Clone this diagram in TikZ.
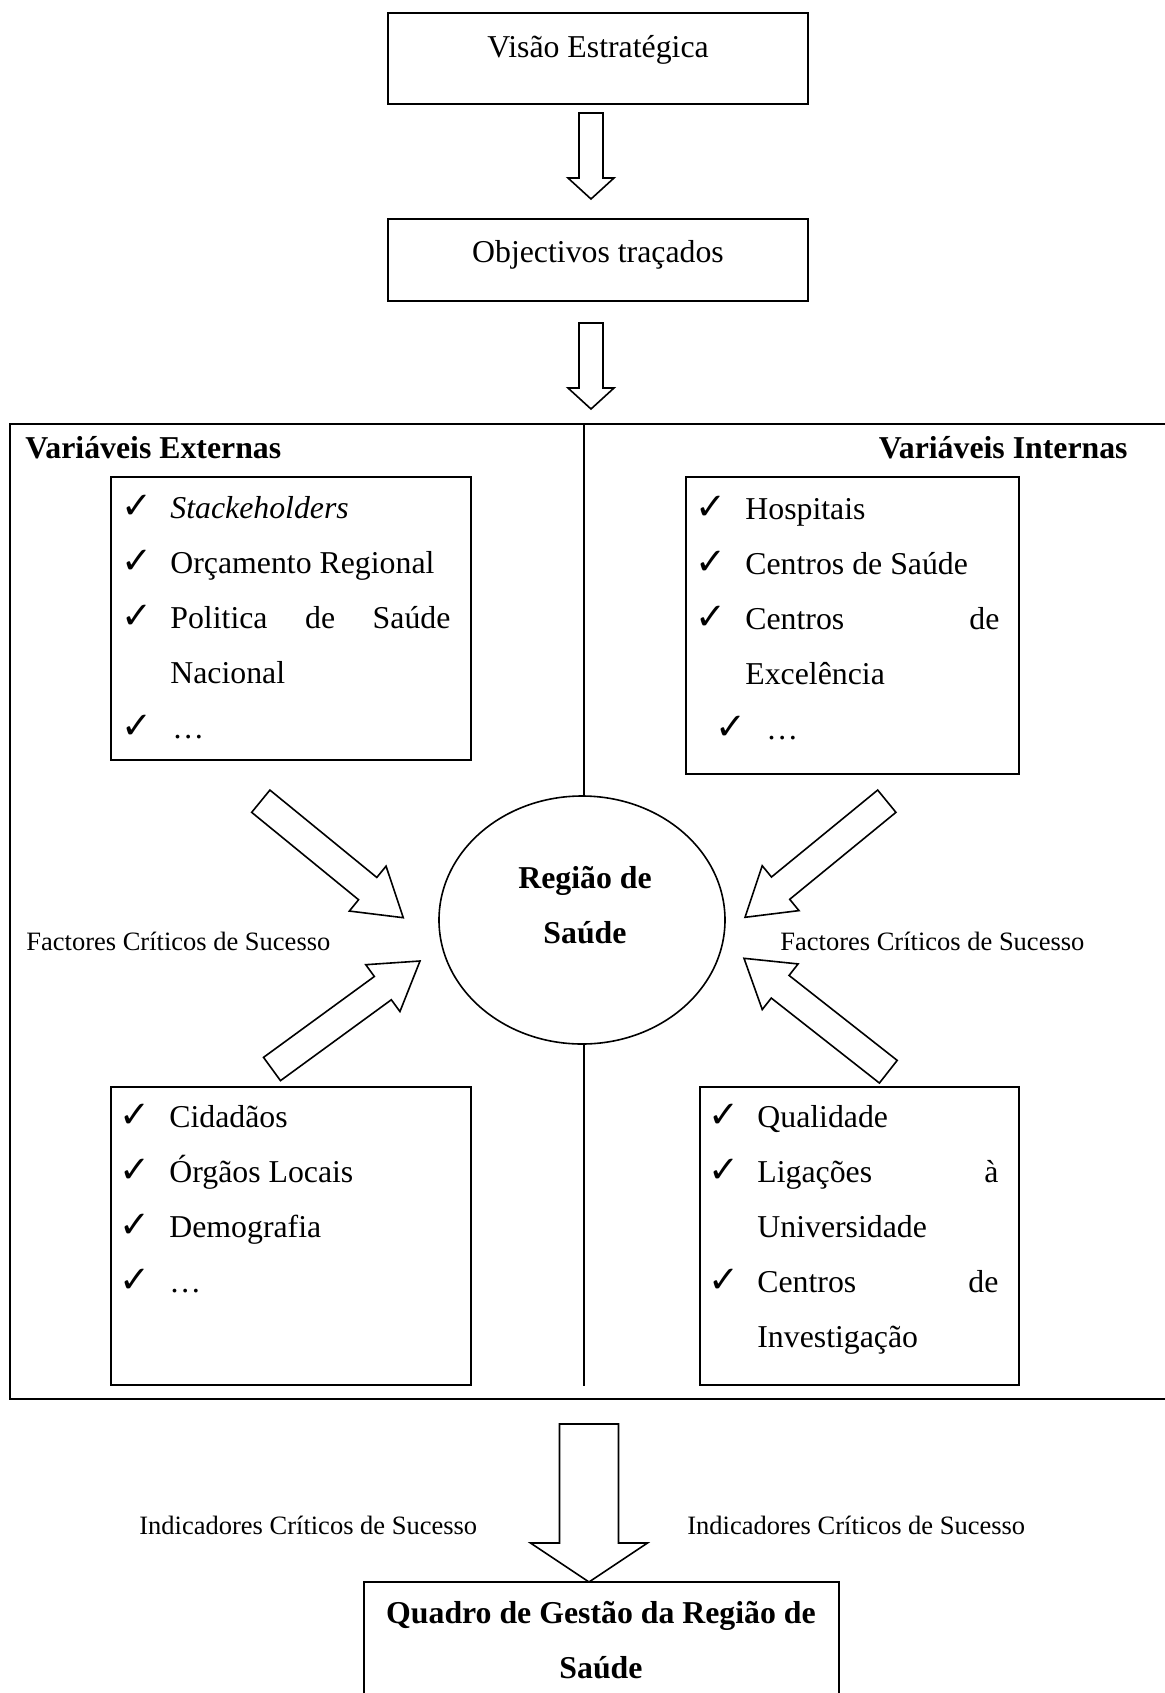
\documentclass[tikz,border=0pt]{standalone}
\usepackage{fontspec}
\setmainfont{Liberation Serif}
\newfontfamily\tickfont{DejaVu Sans}
\usetikzlibrary{calc,shapes.geometric}

% hollow block arrow: tail, tip, shaft half-width, head half-width, head length
\newcommand\flowarrow[5]{%
  \coordinate (fa-neck) at ($(#2)!#5!(#1)$);
  \draw[blockarrow]
    ($(#1)!#3!90:(#2)$) -- ($(fa-neck)!#3!90:(#2)$) -- ($(fa-neck)!#4!90:(#2)$)
    -- (#2)
    -- ($(fa-neck)!#4!-90:(#2)$) -- ($(fa-neck)!#3!-90:(#2)$) -- ($(#1)!#3!-90:(#2)$)
    -- cycle;}

\tikzset{
  box/.style={draw, line width=0.8pt, inner sep=0pt},
  frame/.style={draw, line width=1.1pt, inner sep=0pt},
  blockarrow/.style={draw, line width=0.8pt, fill=white, line join=miter},
  txt/.style={inner sep=0pt, anchor=base west, font=\fontsize{15.9}{27.5}\selectfont},
  ctxt/.style={inner sep=0pt, anchor=base, font=\fontsize{15.9}{27.5}\selectfont},
  btxt/.style={inner sep=0pt, anchor=base, font=\fontsize{15.9}{27.5}\selectfont\bfseries},
  small/.style={inner sep=0pt, anchor=base west, font=\fontsize{13.25}{16}\selectfont},
  tick/.style={inner sep=0pt, anchor=base west, font=\tickfont\fontsize{18.5}{20}\selectfont},
}

\begin{document}
\begin{tikzpicture}[x=0.5pt,y=-0.5pt]
\useasboundingbox (0,0) rectangle (1164,1693);

% boxes
\node[box, minimum width=210pt, minimum height=45.5pt] (vis) at (598,58.5) {};
\node[box, minimum width=210pt, minimum height=41pt] (obj) at (598,260) {};
\node[frame, minimum width=585pt, minimum height=487.5pt] (frm) at (595,911.5) {};
\node[box, minimum width=180pt, minimum height=141.5pt] (ext1) at (291,618.5) {};
\node[box, minimum width=166.5pt, minimum height=148.5pt] (int1) at (852.5,625.5) {};
\node[box, minimum width=180pt, minimum height=149pt] (ext2) at (291,1236) {};
\node[box, minimum width=159.5pt, minimum height=149pt] (int2) at (859.5,1236) {};
\node[box, minimum width=237.5pt, minimum height=69pt] (quad) at (601.5,1651) {};
\node[draw, line width=0.8pt, ellipse, inner sep=0pt, minimum width=143pt, minimum height=124pt] (reg) at (582,920) {};

% central divider
\coordinate (divtop) at (584,424);
\coordinate (divbot) at (584,1386);
\draw[line width=0.8pt] (divtop) -- (divtop |- reg.north);
\draw[line width=0.8pt] (divbot |- reg.south) -- (divbot);

% block arrows
\coordinate (a1t) at (591,113);  \coordinate (a1h) at (591,199);
\coordinate (a2t) at (591,323);  \coordinate (a2h) at (591,409);
\coordinate (a3t) at (589,1424); \coordinate (a3h) at (589,1582);
\flowarrow{a1t}{a1h}{6pt}{11.5pt}{10.5pt}
\flowarrow{a2t}{a2h}{6pt}{11.5pt}{10.5pt}
\flowarrow{a3t}{a3h}{14.75pt}{29.25pt}{19.5pt}

\coordinate (tlt) at (260.8,801.2);  \coordinate (tlh) at (403.3,917.7);
\coordinate (blt) at (272,1069);     \coordinate (blh) at (420,961);
\coordinate (trt) at (886.8,801.2);  \coordinate (trh) at (745,917.3);
\coordinate (brt) at (888.3,1071.7); \coordinate (brh) at (744,958.3);
\flowarrow{tlt}{tlh}{7.2pt}{14.5pt}{23pt}
\flowarrow{blt}{blh}{7.2pt}{14.5pt}{23pt}
\flowarrow{trt}{trh}{7.2pt}{14.5pt}{23pt}
\flowarrow{brt}{brh}{7.2pt}{14.5pt}{23pt}

% titles
\node[ctxt] (vistxt) at (598,57) {Visão Estratégica};
\node[ctxt] (objtxt) at (598,262) {Objectivos traçados};
\node[btxt, anchor=base west] (exthd) at (25,458) {Variáveis Externas};
\node[btxt, anchor=base east] (inthd) at (1128,458) {Variáveis Internas};

% external variables (top)
\node[tick] (t11) at (121,518) {✓};
\node[txt] (e11) at (170,518) {\textit{Stackeholders}};
\node[tick] (t12) at (121,573) {✓};
\node[txt] (e12) at (170,573) {Orçamento Regional};
\node[tick] (t13) at (121,628) {✓};
\node[txt] (e13) at (170,628) {\hbox to 140pt{Politica\hfill de\hfill Saúde}};
\node[txt] (e14) at (170,683) {Nacional};
\node[tick] (t14) at (121,738) {✓};
\node[txt] (e15) at (172,738) {…};

% internal variables (top)
\node[tick] (t21) at (695,519) {✓};
\node[txt] (i11) at (745,519) {Hospitais};
\node[tick] (t22) at (695,574) {✓};
\node[txt] (i12) at (745,574) {Centros de Saúde};
\node[tick] (t23) at (695,629) {✓};
\node[txt] (i13) at (745,629) {\hbox to 127pt{Centros\hfill de}};
\node[txt] (i14) at (745,684) {Excelência};
\node[tick] (t24) at (715,739) {✓};
\node[txt] (i15) at (766,739) {…};

% external variables (bottom)
\node[tick] (t31) at (119,1127) {✓};
\node[txt] (e21) at (169,1127) {Cidadãos};
\node[tick] (t32) at (119,1182) {✓};
\node[txt] (e22) at (169,1182) {Órgãos Locais};
\node[tick] (t33) at (119,1237) {✓};
\node[txt] (e23) at (169,1237) {Demografia};
\node[tick] (t34) at (119,1292) {✓};
\node[txt] (e24) at (169,1292) {…};

% internal variables (bottom)
\node[tick] (t41) at (708,1127) {✓};
\node[txt] (i21) at (757,1127) {Qualidade};
\node[tick] (t42) at (708,1182) {✓};
\node[txt] (i22) at (757,1182) {\hbox to 120.5pt{Ligações\hfill à}};
\node[txt] (i23) at (757,1237) {Universidade};
\node[tick] (t43) at (708,1292) {✓};
\node[txt] (i24) at (757,1292) {\hbox to 120.5pt{Centros\hfill de}};
\node[txt] (i25) at (757,1347) {Investigação};

% centre
\node[btxt] (reg1) at (585,888) {Região de};
\node[btxt] (reg2) at (585,943) {Saúde};

% side labels
\node[small] (fcs1) at (26,950) {Factores Críticos de Sucesso};
\node[small] (fcs2) at (780,950) {Factores Críticos de Sucesso};
\node[small] (ics1) at (139,1534) {Indicadores Críticos de Sucesso};
\node[small] (ics2) at (687,1534) {Indicadores Críticos de Sucesso};

% result
\node[btxt] (quad1) at (601,1623) {Quadro de Gestão da Região de};
\node[btxt] (quad2) at (601,1678) {Saúde};
\end{tikzpicture}
\end{document}
